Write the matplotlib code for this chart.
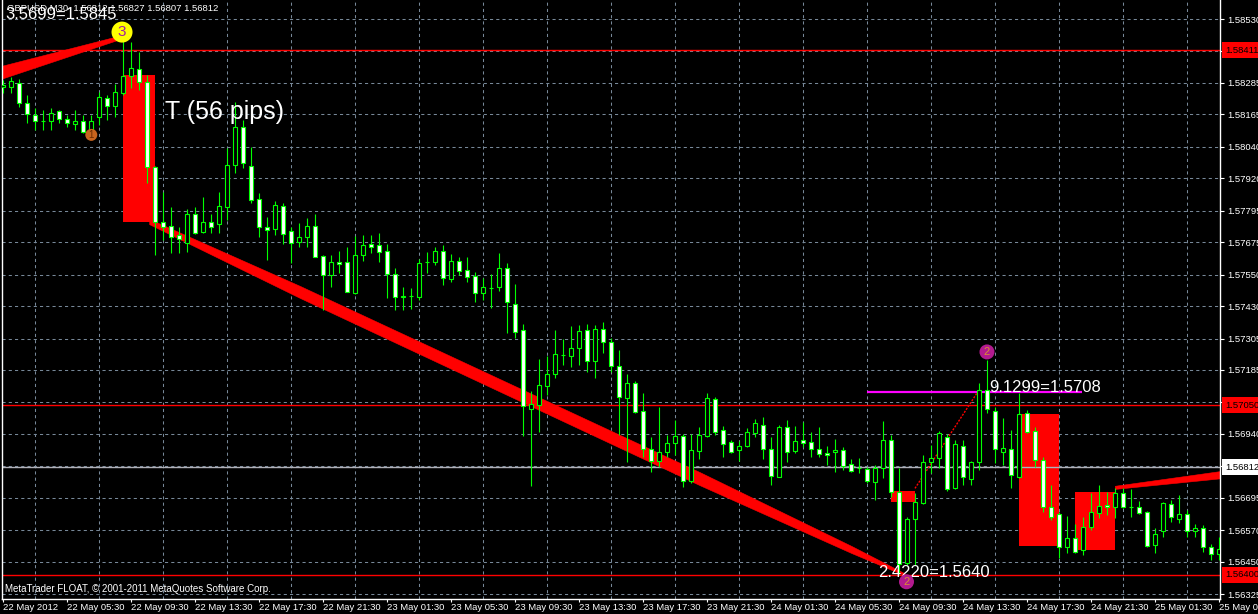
import matplotlib
matplotlib.use('Agg')
import matplotlib.pyplot as plt
import matplotlib.transforms as mtransforms
from matplotlib.patches import Rectangle, Polygon
import numpy as np

# ---------------- data (GBPUSD M30 candles) ----------------
opens = [1.58270, 1.58270, 1.58285, 1.58208, 1.58162, 1.58139, 1.58139, 1.58178, 1.58147, 1.58128,
         1.58139, 1.58097, 1.58155, 1.58227, 1.58197, 1.58247, 1.58312, 1.58339, 1.58289, 1.57963,
         1.57752, 1.57737, 1.57702, 1.57672, 1.57783, 1.57714, 1.57752, 1.57744, 1.57810, 1.57971,
         1.58116, 1.57967, 1.57840, 1.57733, 1.57725, 1.57813, 1.57718, 1.57675, 1.57695, 1.57737,
         1.57622, 1.57549, 1.57599, 1.57599, 1.57480, 1.57626, 1.57668, 1.57664, 1.57641, 1.57553,
         1.57465, 1.57468, 1.57465, 1.57597, 1.57599, 1.57641, 1.57534, 1.57603, 1.57568, 1.57545,
         1.57480, 1.57500, 1.57503, 1.57576, 1.57438, 1.57338, 1.57035, 1.57051, 1.57124, 1.57170,
         1.57244, 1.57239, 1.57269, 1.57338, 1.57219, 1.57342, 1.57292, 1.57200, 1.57078, 1.57135,
         1.57028, 1.56882, 1.56836, 1.56871, 1.56905, 1.56932, 1.56759, 1.56874, 1.56932, 1.57074,
         1.56955, 1.56909, 1.56878, 1.56894, 1.56943, 1.56974, 1.56882, 1.56775, 1.56966, 1.56874,
         1.56917, 1.56909, 1.56882, 1.56867, 1.56871, 1.56878, 1.56825, 1.56810, 1.56805, 1.56756,
         1.56809, 1.56917, 1.56717, 1.56445, 1.56614, 1.56675, 1.56832, 1.56848, 1.56928, 1.56733,
         1.56894, 1.56767, 1.56832, 1.57108, 1.57028, 1.56871, 1.56882, 1.56775, 1.57020, 1.56951,
         1.56840, 1.56660, 1.56633, 1.56506, 1.56541, 1.56495, 1.56583, 1.56637, 1.56667, 1.56660,
         1.56713, 1.56661, 1.56660, 1.56641, 1.56514, 1.56568, 1.56671, 1.56614, 1.56633, 1.56568,
         1.56579, 1.56506, 1.56480]
highs = [1.58296, 1.58308, 1.58300, 1.58239, 1.58189, 1.58181, 1.58189, 1.58181, 1.58162, 1.58181,
         1.58162, 1.58162, 1.58250, 1.58239, 1.58281, 1.58450, 1.58442, 1.58404, 1.58316, 1.57967,
         1.57867, 1.57810, 1.57733, 1.57802, 1.57810, 1.57848, 1.57783, 1.57867, 1.58036, 1.58212,
         1.58143, 1.58040, 1.57863, 1.57771, 1.57833, 1.57825, 1.57733, 1.57748, 1.57767, 1.57783,
         1.57626, 1.57626, 1.57641, 1.57656, 1.57698, 1.57702, 1.57702, 1.57710, 1.57668, 1.57576,
         1.57503, 1.57499, 1.57610, 1.57637, 1.57656, 1.57664, 1.57629, 1.57618, 1.57618, 1.57560,
         1.57537, 1.57553, 1.57633, 1.57595, 1.57514, 1.57361, 1.57104, 1.57227, 1.57239, 1.57338,
         1.57304, 1.57353, 1.57357, 1.57361, 1.57357, 1.57369, 1.57307, 1.57261, 1.57170, 1.57143,
         1.57097, 1.56928, 1.57043, 1.56936, 1.56993, 1.56940, 1.56940, 1.56966, 1.57097, 1.57081,
         1.56970, 1.56917, 1.56913, 1.56963, 1.56997, 1.57005, 1.56928, 1.56974, 1.56993, 1.56970,
         1.56986, 1.56947, 1.56966, 1.56894, 1.56920, 1.56890, 1.56844, 1.56848, 1.56813, 1.56821,
         1.56989, 1.56936, 1.56809, 1.56621, 1.56713, 1.56859, 1.56897, 1.56951, 1.56940, 1.56917,
         1.56917, 1.56836, 1.57135, 1.57223, 1.57043, 1.57001, 1.56955, 1.57097, 1.57032, 1.56966,
         1.56851, 1.56744, 1.56641, 1.56625, 1.56595, 1.56621, 1.56713, 1.56744, 1.56717, 1.56733,
         1.56733, 1.56729, 1.56683, 1.56644, 1.56579, 1.56679, 1.56687, 1.56706, 1.56648, 1.56595,
         1.56591, 1.56518, 1.56545]
lows = [1.58247, 1.58247, 1.58193, 1.58132, 1.58105, 1.58105, 1.58105, 1.58132, 1.58116, 1.58105,
        1.58093, 1.58078, 1.58124, 1.58143, 1.58155, 1.58239, 1.58266, 1.58258, 1.57902, 1.57626,
        1.57683, 1.57633, 1.57633, 1.57637, 1.57706, 1.57710, 1.57710, 1.57710, 1.57760, 1.57940,
        1.57959, 1.57825, 1.57695, 1.57606, 1.57702, 1.57668, 1.57595, 1.57656, 1.57656, 1.57616,
        1.57415, 1.57503, 1.57557, 1.57482, 1.57476, 1.57603, 1.57633, 1.57599, 1.57461, 1.57415,
        1.57415, 1.57419, 1.57453, 1.57557, 1.57587, 1.57511, 1.57522, 1.57549, 1.57522, 1.57445,
        1.57453, 1.57422, 1.57488, 1.57327, 1.57307, 1.56932, 1.56740, 1.56947, 1.57089, 1.57154,
        1.57204, 1.57196, 1.57204, 1.57177, 1.57154, 1.57250, 1.57177, 1.56936, 1.56832, 1.57020,
        1.56851, 1.56794, 1.56813, 1.56851, 1.56859, 1.56736, 1.56752, 1.56844, 1.56928, 1.56936,
        1.56851, 1.56867, 1.56836, 1.56890, 1.56928, 1.56844, 1.56744, 1.56773, 1.56832, 1.56867,
        1.56890, 1.56851, 1.56851, 1.56821, 1.56794, 1.56802, 1.56794, 1.56790, 1.56752, 1.56687,
        1.56771, 1.56698, 1.56402, 1.56437, 1.56437, 1.56671, 1.56790, 1.56809, 1.56721, 1.56729,
        1.56744, 1.56744, 1.56802, 1.57020, 1.56828, 1.56821, 1.56733, 1.56771, 1.56943, 1.56813,
        1.56641, 1.56610, 1.56464, 1.56483, 1.56483, 1.56476, 1.56572, 1.56618, 1.56629, 1.56618,
        1.56656, 1.56621, 1.56633, 1.56506, 1.56483, 1.56545, 1.56602, 1.56598, 1.56545, 1.56545,
        1.56487, 1.56456, 1.56456]
closes = [1.58277, 1.58293, 1.58208, 1.58166, 1.58139, 1.58140, 1.58170, 1.58147, 1.58132, 1.58139,
          1.58097, 1.58139, 1.58231, 1.58197, 1.58250, 1.58312, 1.58342, 1.58289, 1.57963, 1.57752,
          1.57733, 1.57695, 1.57687, 1.57783, 1.57710, 1.57752, 1.57733, 1.57813, 1.57971, 1.58116,
          1.57978, 1.57836, 1.57733, 1.57721, 1.57817, 1.57706, 1.57672, 1.57695, 1.57737, 1.57618,
          1.57549, 1.57599, 1.57591, 1.57484, 1.57626, 1.57664, 1.57656, 1.57637, 1.57553, 1.57465,
          1.57468, 1.57469, 1.57595, 1.57599, 1.57641, 1.57537, 1.57603, 1.57564, 1.57541, 1.57480,
          1.57503, 1.57499, 1.57576, 1.57445, 1.57330, 1.57047, 1.57055, 1.57127, 1.57170, 1.57246,
          1.57242, 1.57269, 1.57334, 1.57219, 1.57342, 1.57292, 1.57200, 1.57081, 1.57135, 1.57024,
          1.56882, 1.56836, 1.56871, 1.56905, 1.56932, 1.56759, 1.56878, 1.56936, 1.57078, 1.56947,
          1.56901, 1.56871, 1.56894, 1.56947, 1.56982, 1.56882, 1.56779, 1.56966, 1.56871, 1.56913,
          1.56905, 1.56882, 1.56863, 1.56859, 1.56878, 1.56817, 1.56798, 1.56809, 1.56759, 1.56809,
          1.56917, 1.56717, 1.56441, 1.56614, 1.56679, 1.56832, 1.56848, 1.56943, 1.56729, 1.56901,
          1.56775, 1.56832, 1.57108, 1.57035, 1.56882, 1.56886, 1.56782, 1.57016, 1.56947, 1.56840,
          1.56660, 1.56621, 1.56506, 1.56541, 1.56487, 1.56583, 1.56641, 1.56664, 1.56660, 1.56713,
          1.56660, 1.56660, 1.56637, 1.56510, 1.56556, 1.56675, 1.56621, 1.56633, 1.56568, 1.56579,
          1.56506, 1.56480, 1.56499]

x_tick_labels = ["22 May 2012", "22 May 05:30", "22 May 09:30", "22 May 13:30", "22 May 17:30",
                 "22 May 21:30", "23 May 01:30", "23 May 05:30", "23 May 09:30", "23 May 13:30",
                 "23 May 17:30", "23 May 21:30", "24 May 01:30", "24 May 05:30", "24 May 09:30",
                 "24 May 13:30", "24 May 17:30", "24 May 21:30", "25 May 01:30", "25 May 05:30"]
y_tick_values = [1.58530, 1.58408, 1.58285, 1.58165, 1.58040, 1.57920, 1.57795, 1.57675, 1.57550,
                 1.57430, 1.57305, 1.57185, 1.57063, 1.56940, 1.56817, 1.56695, 1.56570, 1.56450,
                 1.56325]
y_tick_labels = ["1.58530", "", "1.58285", "1.58165", "1.58040", "1.57920", "1.57795", "1.57675",
                 "1.57550", "1.57430", "1.57305", "1.57185", "", "1.56940", "", "1.56695",
                 "1.56570", "1.56450", "1.56325"]

# horizontal level lines (price) and their axis labels
red_levels = [1.58411, 1.57050, 1.56400]
bid_price = 1.56812
title_text = "GBPUSD,M30  1.56812 1.56827 1.56807 1.56812"
copyright_text = "MetaTrader FLOAT, \u00a9 2001-2011 MetaQuotes Software Corp."

# drawn objects (bar index, price)
rects = [  # x0, x1, p_low, p_high
    (14.96, 18.96, 1.57753, 1.58316),
    (110.96, 113.96, 1.56680, 1.56722),
    (126.96, 131.99, 1.56511, 1.57016),
    (133.96, 138.96, 1.56496, 1.56718),
]
magenta_line = (107.97, 134.8, 1.57101)
dotted_line = ((113.96, 1.56731), (121.7, 1.57096))
labels_big = [
    ("3.5699=1.5845", 0.21, 1.58547, 12),
    ("T (56 pips)", 20.2, 1.58174, 18),
    ("9.1299=1.5708", 123.2, 1.57117, 12),
    ("2.4220=1.5640", 109.35, 1.56408, 12),
]
markers = [  # bar, price, text, face, text colour, diameter px, fontsize
    (14.84, 1.58480, "3", "#ffff00", "#a0209f", 21, 11),
    (11.0, 1.58086, "1", "#c8641e", "#6a2a00", 12, 7),
    (122.96, 1.57254, "2", "#b21a8e", "#d89030", 15, 8),
    (112.9, 1.56373, "2", "#b21a8e", "#d89030", 15, 8),
]

# ---------------- figure ----------------
W, H = 1258, 614
FONT = "Liberation Sans"
fig = plt.figure(figsize=(W / 100, H / 100), dpi=100, facecolor="black")
ax = fig.add_axes([2 / W, (H - 599) / H, 1218 / W, 599 / H])
ax.set_facecolor("black")

n = len(opens)
xs = np.arange(n)
ax.set_xlim(-0.1625, 152.0875)
ax.set_ylim(1.56307, 1.58603)

GRID = "#778899"
# grids
ax.set_yticks(y_tick_values)
ax.set_yticklabels(y_tick_labels, fontfamily=FONT)
ax.yaxis.tick_right()
ax.set_xticks(np.arange(0, 153, 8))
ax.set_xticklabels(x_tick_labels, ha="left", fontfamily=FONT)
ax.set_xticks(np.arange(4, 153, 8), minor=True)
ax.grid(False)
ax.grid(which="major", axis="y", color=GRID, lw=0.75, ls=(0, (3, 3)), zorder=0)
ax.grid(which="minor", axis="x", color=GRID, lw=0.75, ls=(0, (3, 3)), zorder=0)
ax.set_axisbelow(True)
ax.tick_params(axis="y", which="major", colors="white", labelsize=6.8, length=3, width=0.8,
               direction="out", pad=2)
ax.tick_params(axis="x", which="major", colors="white", labelsize=6.8, length=2.5, width=0.8,
               direction="out", pad=0.5)
ax.tick_params(axis="x", which="minor", length=0)
for s in ["left", "right", "bottom"]:
    ax.spines[s].set_color("white")
    ax.spines[s].set_linewidth(1.0)
ax.spines["top"].set_visible(False)

# rectangles
for x0, x1, p0, p1 in rects:
    ax.add_patch(Rectangle((x0, p0), x1 - x0, p1 - p0, fc="#ff0000", ec="none", zorder=1))

# level lines
for lv in red_levels:
    ax.axhline(lv, color="#ff0000", lw=1.0, zorder=1.5)
ax.axhline(bid_price, color="#b0b0b8", lw=1.0, zorder=1.5)
ax.hlines(magenta_line[2], magenta_line[0], magenta_line[1], color="#ff00ff", lw=1.6, zorder=1.6)
ax.plot([dotted_line[0][0], dotted_line[1][0]], [dotted_line[0][1], dotted_line[1][1]],
        color="#ff0000", lw=1.0, ls=(0, (1.5, 1)), zorder=1.6)


def band(x0, y0, x1, y1, fr, th_pips):
    t = np.array(fr)
    bx = x0 + (x1 - x0) * t
    by = y0 + (y1 - y0) * t
    half = np.array(th_pips) * 1e-4 / 2
    verts = list(zip(bx, by + half)) + list(zip(bx[::-1], (by - half)[::-1]))
    ax.add_patch(Polygon(verts, closed=True, fc="#ff0000", ec="#ff0000", lw=0.4, zorder=2))


band(-0.5, 1.58321, 14.2, 1.58454, [0, 1], [5.0, 1.5])
band(18.3, 1.57752, 112.7, 1.56400, [0, 0.2, 0.73, 0.93, 1.0], [2.0, 4.6, 5.0, 2.7, 0.8])
band(139.0, 1.56733, 152.3, 1.56782, [0, 1], [1.2, 2.8])

# candles
o = np.array(opens); h = np.array(highs); l = np.array(lows); c = np.array(closes)
bull = c >= o
bot = np.minimum(o, c)
hgt = np.abs(c - o)
ax.vlines(xs, l, h, color="#00ff00", lw=0.8, zorder=3)
ax.bar(xs[bull], hgt[bull], 0.5, bottom=bot[bull], facecolor="black", edgecolor="#00ff00",
       linewidth=0.8, zorder=4)
ax.bar(xs[~bull], hgt[~bull], 0.5, bottom=bot[~bull], facecolor="white", edgecolor="#00ff00",
       linewidth=0.8, zorder=4)

# big labels
for txt, bx, py, fs in labels_big:
    ax.text(bx, py, txt, color="white", fontsize=fs, fontfamily=FONT, ha="left", va="center",
            zorder=8)

# markers
for bx, py, t, fc, tc, d, fs in markers:
    ax.scatter([bx], [py], s=(d * 0.72) ** 2, c=fc, edgecolors="none", zorder=9, clip_on=False)
    ax.text(bx, py, t, color=tc, fontsize=fs, fontfamily=FONT, ha="center", va="center",
            zorder=10)

# price boxes on the right axis
trans = mtransforms.blended_transform_factory(ax.transAxes, ax.transData)
boxes = [(lv, "%.5f" % lv, "#ff0000", "black") for lv in red_levels]
boxes.append((bid_price, "%.5f" % bid_price, "white", "black"))
for val, txt, fc, tc in boxes:
    ax.text(1.0 + 5 / 1218, val, txt, transform=trans, ha="left", va="center", fontsize=6.8,
            fontfamily=FONT, color=tc, clip_on=False, zorder=11,
            bbox=dict(boxstyle="square,pad=0.35", fc=fc, ec="none"))

# header and footer texts
fig.text(7 / W, 1 - 8 / H, title_text, color="white", fontsize=6.8, fontfamily=FONT,
         ha="left", va="center")
fig.text(5 / W, 1 - 589 / H, copyright_text, color="white", fontsize=7, fontfamily=FONT,
         ha="left", va="center")

fig.savefig("out.png", dpi=100, facecolor="black")
